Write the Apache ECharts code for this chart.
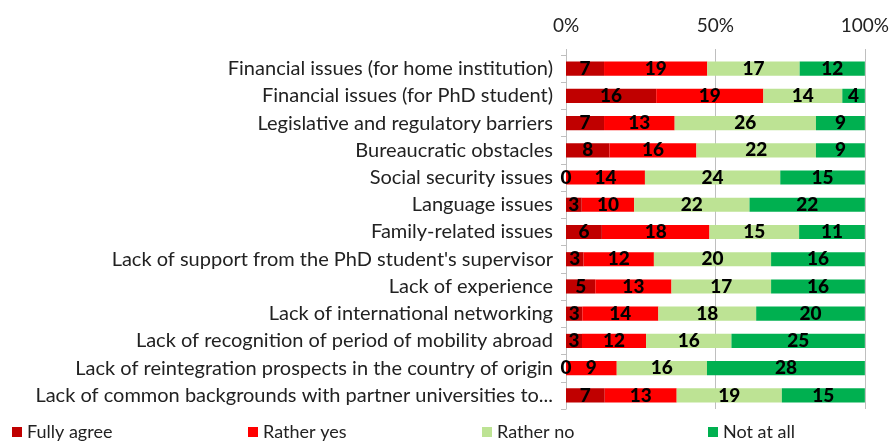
<!DOCTYPE html>
<html>
<head>
<meta charset="utf-8">
<script src="https://cdn.jsdelivr.net/npm/echarts@6/dist/echarts.min.js"></script>
<style>
  html, body { margin: 0; padding: 0; background: #fff; }
  #main { width: 892px; height: 441px; }
</style>
</head>
<body>
<div id="main"></div>
<script>
var categories = [
  'Financial issues (for home institution)',
  'Financial issues (for PhD student)',
  'Legislative and regulatory barriers',
  'Bureaucratic obstacles',
  'Social security issues',
  'Language issues',
  'Family-related issues',
  "Lack of support from the PhD student's supervisor",
  'Lack of experience',
  'Lack of international networking',
  'Lack of recognition of period of mobility abroad',
  'Lack of reintegration prospects in the country of origin',
  'Lack of common backgrounds with partner universities to...'
];
var seriesNames = ['Fully agree', 'Rather yes', 'Rather no', 'Not at all'];
var fullyAgree = [7, 16, 7, 8, 0, 3, 6, 3, 5, 3, 3, 0, 7];
var ratherYes = [19, 19, 13, 16, 14, 10, 18, 12, 13, 14, 12, 9, 13];
var ratherNo = [17, 14, 26, 22, 24, 22, 15, 20, 17, 18, 16, 16, 19];
var notAtAll = [12, 4, 9, 9, 15, 22, 11, 16, 16, 20, 25, 28, 15];
var colors = ['#c00000', '#ff0000', '#bde394', '#00b050'];
var tickLabels = ['0%', '50%', '100%'];

var counts = [fullyAgree, ratherYes, ratherNo, notAtAll];
var totals = categories.map(function (c, i) {
  return fullyAgree[i] + ratherYes[i] + ratherNo[i] + notAtAll[i];
});

var chartDom = document.getElementById('main');
var myChart = echarts.init(chartDom);
var font = 'Lato';

var series = counts.map(function (arr, k) {
  return {
    name: seriesNames[k],
    type: 'bar',
    stack: 'total',
    barCategoryGap: '48%',
    itemStyle: { color: colors[k] },
    label: {
      show: true,
      position: 'inside',
      color: '#000',
      fontFamily: font,
      fontWeight: 900,
      fontSize: 19,
      formatter: function (p) { return p.data.count; }
    },
    data: arr.map(function (v, i) {
      return { value: v / totals[i] * 100, count: v };
    })
  };
});

// one legend per item so each sits where the reference puts it
var legendLeft = [7, 243, 477, 703];
var legends = seriesNames.map(function (n, k) {
  return {
    data: [n],
    left: legendLeft[k],
    top: 418,
    icon: 'rect',
    itemWidth: 10,
    itemHeight: 10,
    textStyle: { fontFamily: font, fontSize: 18, color: '#222' }
  };
});

var option = {
  animation: false,
  grid: { left: 566, right: 27, top: 55, bottom: 32 },
  legend: legends,
  xAxis: {
    type: 'value',
    position: 'top',
    min: 0,
    max: 100,
    interval: 50,
    axisLine: { show: false },
    axisTick: { show: true, length: 6, lineStyle: { color: '#bfbfbf' } },
    splitLine: { show: true, lineStyle: { color: '#bfbfbf' } },
    axisLabel: {
      margin: 20,
      fontFamily: font,
      fontSize: 19,
      color: '#222',
      formatter: function (v) { return tickLabels[v / 50]; }
    }
  },
  yAxis: {
    type: 'category',
    inverse: true,
    data: categories,
    axisLine: { show: true, lineStyle: { color: '#bfbfbf' } },
    axisTick: { show: true, length: 5, lineStyle: { color: '#bfbfbf' } },
    axisLabel: {
      margin: 13,
      fontFamily: font,
      fontSize: 20,
      color: '#222'
    }
  },
  series: series
};

option && myChart.setOption(option);
</script>
</body>
</html>
